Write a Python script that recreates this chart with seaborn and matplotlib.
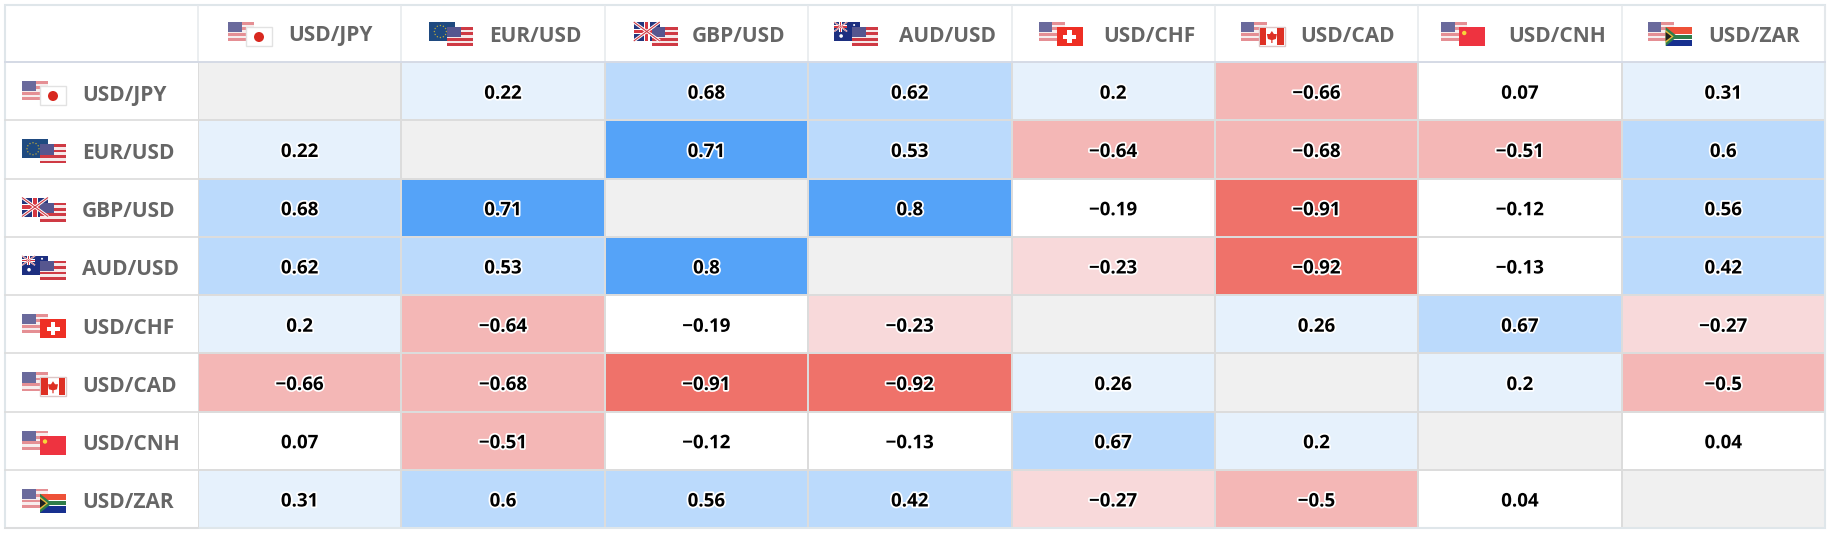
import numpy as np
import matplotlib
matplotlib.use('Agg')
import matplotlib.pyplot as plt
import matplotlib.patheffects as pe
from matplotlib.colors import ListedColormap, BoundaryNorm
from matplotlib.patches import Rectangle, Circle, Polygon
import seaborn as sns

pairs = ['USD/JPY', 'EUR/USD', 'GBP/USD', 'AUD/USD', 'USD/CHF', 'USD/CAD', 'USD/CNH', 'USD/ZAR']

usd_jpy = [np.nan, 0.22, 0.68, 0.62, 0.2, -0.66, 0.07, 0.31]
eur_usd = [0.22, np.nan, 0.71, 0.53, -0.64, -0.68, -0.51, 0.6]
gbp_usd = [0.68, 0.71, np.nan, 0.8, -0.19, -0.91, -0.12, 0.56]
aud_usd = [0.62, 0.53, 0.8, np.nan, -0.23, -0.92, -0.13, 0.42]
usd_chf = [0.2, -0.64, -0.19, -0.23, np.nan, 0.26, 0.67, -0.27]
usd_cad = [-0.66, -0.68, -0.91, -0.92, 0.26, np.nan, 0.2, -0.5]
usd_cnh = [0.07, -0.51, -0.12, -0.13, 0.67, 0.2, np.nan, 0.04]
usd_zar = [0.31, 0.6, 0.56, 0.42, -0.27, -0.5, 0.04, np.nan]

bin_edges = [-1, -0.7, -0.4, -0.2, 0.2, 0.4, 0.7, 1]
bin_colors = ['#ef726a', '#f4b7b6', '#f8d9da', '#ffffff', '#e6f1fc', '#bbdafc', '#55a3f8']

W, H = 1830, 538
LEFT, TOP, RIGHT, BOTTOM = 198, 62, 1825, 528
FONT = ['Open Sans', 'DejaVu Sans']

# header flag and text offsets from the left edge of each column, in pixels
head_flag_x = [30, 28, 29, 26, 27, 26, 23, 26]
head_text_x = [132, 134, 134, 139, 138, 133, 139, 132]

corr = np.array([usd_jpy, eur_usd, gbp_usd, aud_usd, usd_chf, usd_cad, usd_cnh, usd_zar])


def fmt_value(v):
    if np.isnan(v):
        return ''
    return f'{v:g}'.replace('-', '\u2212')


labels = np.array([[fmt_value(v) for v in row] for row in corr])

fig = plt.figure(figsize=(W / 100, H / 100), dpi=100, facecolor='white')

# heatmap holds the coloured cells only, headers go on the overlay
ax = fig.add_axes([LEFT / W, 1 - BOTTOM / H, (RIGHT - LEFT) / W, (BOTTOM - TOP) / H])
ax.set_facecolor('#f0f0f0')
sns.heatmap(corr, ax=ax, cmap=ListedColormap(bin_colors), norm=BoundaryNorm(bin_edges, len(bin_colors)),
            annot=labels, fmt='', cbar=False, linewidths=1.2, linecolor='#dcdcdc',
            xticklabels=False, yticklabels=False,
            annot_kws={'color': 'black', 'fontsize': 13.5, 'fontweight': 'bold', 'family': FONT,
                       'path_effects': [pe.withStroke(linewidth=2.5, foreground='white')]})
for t in ax.texts:
    x, y = t.get_position()
    t.set_position((x, y + 0.045))

# overlay in pixel coordinates for the header cells and flags
ov = fig.add_axes([0, 0, 1, 1], zorder=5)
ov.set_xlim(0, W)
ov.set_ylim(H, 0)
ov.axis('off')

FW, FH = 26, 19


def rect(x, y, w, h, color):
    ov.add_patch(Rectangle((x, y), w, h, fc=color, ec='none'))


def us(x, y, red, white, navy):
    rect(x, y, FW, FH, red)
    for i in range(3):
        rect(x, y + (2 * i + 1) * FH / 7, FW, FH / 7, white)
    rect(x, y, FW * 0.52, FH * 0.55, navy)


def jack(x, y, w, h):
    rect(x, y, w, h, '#24367d')
    ov.plot([x, x + w], [y, y + h], color='white', lw=2.2 * h / FH, solid_capstyle='butt')
    ov.plot([x, x + w], [y + h, y], color='white', lw=2.2 * h / FH, solid_capstyle='butt')
    ov.plot([x, x + w], [y, y + h], color='#cf3a44', lw=0.8 * h / FH, solid_capstyle='butt')
    ov.plot([x, x + w], [y + h, y], color='#cf3a44', lw=0.8 * h / FH, solid_capstyle='butt')
    rect(x, y + h * 0.36, w, h * 0.28, 'white')
    rect(x + w * 0.39, y, w * 0.22, h, 'white')
    rect(x, y + h * 0.42, w, h * 0.16, '#d63842')
    rect(x + w * 0.44, y, w * 0.12, h, '#d63842')


def eur_back(x, y):
    rect(x, y, FW, FH, '#1f4a80')
    for a in np.linspace(0, 2 * np.pi, 12, endpoint=False):
        ov.add_patch(Circle((x + 11 + 6 * np.cos(a), y + 9.5 + 6 * np.sin(a)), 0.7, fc='#b9a63c', ec='none'))


def aud_back(x, y):
    rect(x, y, FW, FH, '#1d2f80')
    jack(x, y, FW / 2, FH / 2)
    ov.add_patch(Circle((x + 7, y + 14), 1.8, fc='white', ec='none'))
    ov.add_patch(Circle((x + 20, y + 3), 1, fc='white', ec='none'))


def jpy(x, y):
    ov.add_patch(Rectangle((x, y), FW, FH, fc='white', ec='#e2e2e2', lw=1))
    ov.add_patch(Circle((x + 13, y + 10), 5, fc='#d8281f', ec='none'))


def chf(x, y):
    rect(x, y, FW, FH, '#ee2f24')
    rect(x + 6.5, y + 7.7, 13, 4.2, 'white')
    rect(x + 10.9, y + 3.3, 4.2, 13, 'white')


def cad(x, y):
    ov.add_patch(Rectangle((x, y), FW, FH, fc='white', ec='#dcc6c6', lw=1))
    rect(x + 1, y + 1, 6.5, FH - 2, '#de3024')
    rect(x + 18.5, y + 1, 6.5, FH - 2, '#de3024')
    ov.add_patch(Polygon([(x + 13, y + 4), (x + 15, y + 7), (x + 18, y + 7), (x + 17, y + 12), (x + 13.6, y + 13),
                          (x + 13.6, y + 16), (x + 12.4, y + 16), (x + 12.4, y + 13), (x + 9, y + 12), (x + 8, y + 7),
                          (x + 11, y + 7)], fc='#de3024', ec='none'))


def cnh(x, y):
    rect(x, y, FW, FH, '#ee3340')
    ov.add_patch(Circle((x + 5, y + 6), 2.2, fc='#f7d53a', ec='none'))


def zar(x, y):
    rect(x, y, FW, FH / 2, '#ee5138')
    rect(x, y + FH / 2, FW, FH / 2, '#17308f')
    rect(x + 6, y + FH / 2 - 3, FW - 6, 6, 'white')
    rect(x + 6, y + FH / 2 - 2, FW - 6, 4, '#2f7d4a')
    ov.add_patch(Polygon([(x, y), (x + 12, y + FH / 2), (x, y + FH)], fc='#2f7d4a', ec='none'))
    ov.add_patch(Polygon([(x, y + 3), (x + 8, y + FH / 2), (x, y + FH - 3)], fc='#e5b93a', ec='none'))
    ov.add_patch(Polygon([(x, y + 5), (x + 6, y + FH / 2), (x, y + FH - 5)], fc='#222222', ec='none'))


back_flags = {'EUR/USD': eur_back, 'GBP/USD': lambda x, y: jack(x, y, FW, FH), 'AUD/USD': aud_back}
front_flags = {'USD/JPY': jpy, 'USD/CHF': chf, 'USD/CAD': cad, 'USD/CNH': cnh, 'USD/ZAR': zar}


def draw_flag(pair, x, y):
    # x, y = top left of the back flag
    if pair in back_flags:
        back_flags[pair](x, y)
        us(x + 18, y + 5, '#cf3a44', '#f6e9e9', '#56568f')
    else:
        us(x, y, '#e58f94', '#f7eded', '#6a6a9c')
        front_flags[pair](x + 18, y + 5)


col_w = (RIGHT - LEFT) / 8
row_h = (BOTTOM - TOP) / 8

# header cell lines
for i in range(9):
    xx = LEFT + i * col_w
    ov.plot([xx, xx], [6, TOP], color='#e6e9ec', lw=1.1)
    yy = TOP + i * row_h
    ov.plot([5, LEFT], [yy, yy], color='#dcdcdc', lw=1.2)
ov.plot([5, RIGHT], [TOP, TOP], color='#d5dae6', lw=1.4)
ov.add_patch(Rectangle((5, 5), RIGHT - 5, BOTTOM - 5, fc='none', ec='#dfe6ea', lw=1.5))

for i, pair in enumerate(pairs):
    # column header
    cx = LEFT + i * col_w
    draw_flag(pair, cx + head_flag_x[i], 22)
    ov.text(cx + head_text_x[i], 36, pair, ha='center', va='center', color='#666666', fontsize=15,
            fontweight='bold', family=FONT)
    # row header
    cy = TOP + i * row_h
    draw_flag(pair, 22, cy + 19)
    ov.text(82, cy + 33, pair, ha='left', va='center', color='#666666', fontsize=15,
            fontweight='bold', family=FONT)

fig.savefig('out.png', dpi=100, facecolor='white')
